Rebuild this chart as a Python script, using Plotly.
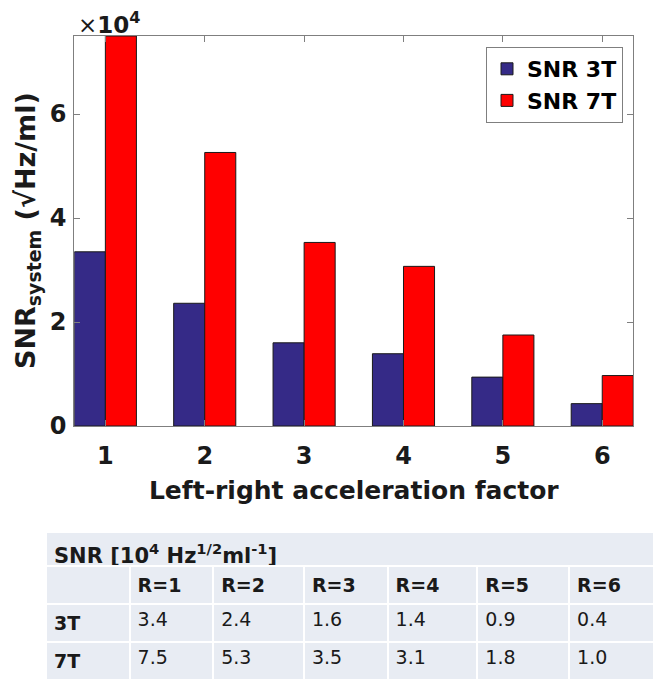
import plotly.graph_objects as go

# ---------------- data ----------------
factors = [1, 2, 3, 4, 5, 6]
snr_3t = [3.35, 2.36, 1.60, 1.39, 0.94, 0.43]   # x 10^4 sqrt(Hz)/ml (bar heights)
snr_7t = [7.50, 5.26, 3.53, 3.07, 1.75, 0.97]
y_ticks = [0, 2, 4, 6]
y_title = "SNR<sub>system</sub> (√Hz/ml)"
x_title = "Left-right acceleration factor"

table_title = "<b>SNR [10<sup>4</sup> Hz<sup>1/2</sup>ml<sup>-1</sup>]</b>"
table_header = ["", "R=1", "R=2", "R=3", "R=4", "R=5", "R=6"]
row_labels = ["3T", "7T"]
table_3t = ["3.4", "2.4", "1.6", "1.4", "0.9", "0.4"]
table_7t = ["7.5", "5.3", "3.5", "3.1", "1.8", "1.0"]
col_widths = [82, 82, 89, 82, 88, 90, 98]

# ---------------- styling ----------------
W, H = 661, 691
OFF = 8            # the page body margin shifts the figure by 8 px
BLUE = "#352A87"
RED = "#FF0000"
AX = "#7f7f7f"
TXT = "#1a1a1a"
FONT = "DejaVu Sans"
CELL_BG = "#e8ecf3"
TFONT = 19


def px_x(p):
    return (p - OFF) / W


def px_y(p):
    return 1 - (p - OFF) / H


fig = go.Figure()
fig.add_trace(go.Bar(x=factors, y=snr_3t, name="SNR 3T",
                     marker=dict(color=BLUE, line=dict(color="#1a1a1a", width=1))))
fig.add_trace(go.Bar(x=factors, y=snr_7t, name="SNR 7T",
                     marker=dict(color=RED, line=dict(color="#1a1a1a", width=1))))

TBL_LEFT = 46

# table: merged title row (its empty cell row is covered by the body table)
fig.add_trace(go.Table(
    domain=dict(x=[px_x(TBL_LEFT), 1], y=[0, px_y(532)]),
    columnwidth=[1],
    header=dict(values=[table_title], fill_color=CELL_BG, align="left",
                line=dict(color="white", width=2), height=34,
                font=dict(family=FONT, size=21, color=TXT)),
    cells=dict(values=[[""]], fill_color="white", line=dict(color="white", width=2),
               height=34, font=dict(family=FONT, size=TFONT, color=TXT)),
))

# table: body
cell_values = [["<b>%s</b>" % r for r in row_labels]] + [
    [a, b] for a, b in zip(table_3t, table_7t)]
fig.add_trace(go.Table(
    domain=dict(x=[px_x(TBL_LEFT), 1], y=[0, px_y(566)]),
    columnwidth=col_widths,
    header=dict(values=["<b>%s</b>" % h for h in table_header], fill_color=CELL_BG,
                align="left", line=dict(color="white", width=2), height=36,
                font=dict(family=FONT, size=TFONT, color=TXT)),
    cells=dict(values=cell_values, fill_color=CELL_BG, align="left",
               line=dict(color="white", width=2), height=35,
               font=dict(family=FONT, size=TFONT, color=TXT)),
))

fig.update_layout(
    width=W, height=H,
    margin=dict(l=0, r=0, t=0, b=0),
    template="none",
    paper_bgcolor="white", plot_bgcolor="white",
    barmode="group", bargap=0.375, bargroupgap=0,
    font=dict(family=FONT, color=TXT),
    legend=dict(x=px_x(623), y=px_y(47), xanchor="right", yanchor="top",
                bgcolor="white", bordercolor=AX, borderwidth=1,
                font=dict(family=FONT, size=22, color="black", weight="bold"),
                tracegroupgap=0),
    xaxis=dict(domain=[px_x(74.3), px_x(633.3)], range=[0.6875, 6.3125],
               tickvals=factors, ticks="inside", ticklen=6, tickcolor=AX,
               showline=True, linecolor=AX, linewidth=1, mirror="ticks",
               showgrid=False, zeroline=False, ticklabelstandoff=8,
               tickfont=dict(family=FONT, size=24, color=TXT, weight="bold"),
               title=dict(text=x_title, standoff=12,
                          font=dict(family=FONT, size=25, color=TXT, weight="bold"))),
    yaxis=dict(domain=[px_y(426), px_y(36)], range=[0, 7.5],
               tickvals=y_ticks, ticks="inside", ticklen=6, tickcolor=AX,
               showline=True, linecolor=AX, linewidth=1, mirror="ticks",
               showgrid=False, zeroline=False, ticklabelstandoff=2,
               tickfont=dict(family=FONT, size=24, color=TXT, weight="bold")),
    annotations=[
        dict(xref="x domain", yref="y domain", x=0, y=1,
             xanchor="left", yanchor="bottom", showarrow=False,
             xshift=2, yshift=-4,
             text="×<b>10<sup>4</sup></b>",
             font=dict(family=FONT, size=23, color=TXT)),
        dict(xref="paper", yref="y domain", x=px_x(27), y=0.5,
             xanchor="center", yanchor="middle", showarrow=False,
             textangle=-90, text=y_title,
             font=dict(family=FONT, size=27, color=TXT, weight="bold")),
    ],
)

fig.write_html("out.html")
